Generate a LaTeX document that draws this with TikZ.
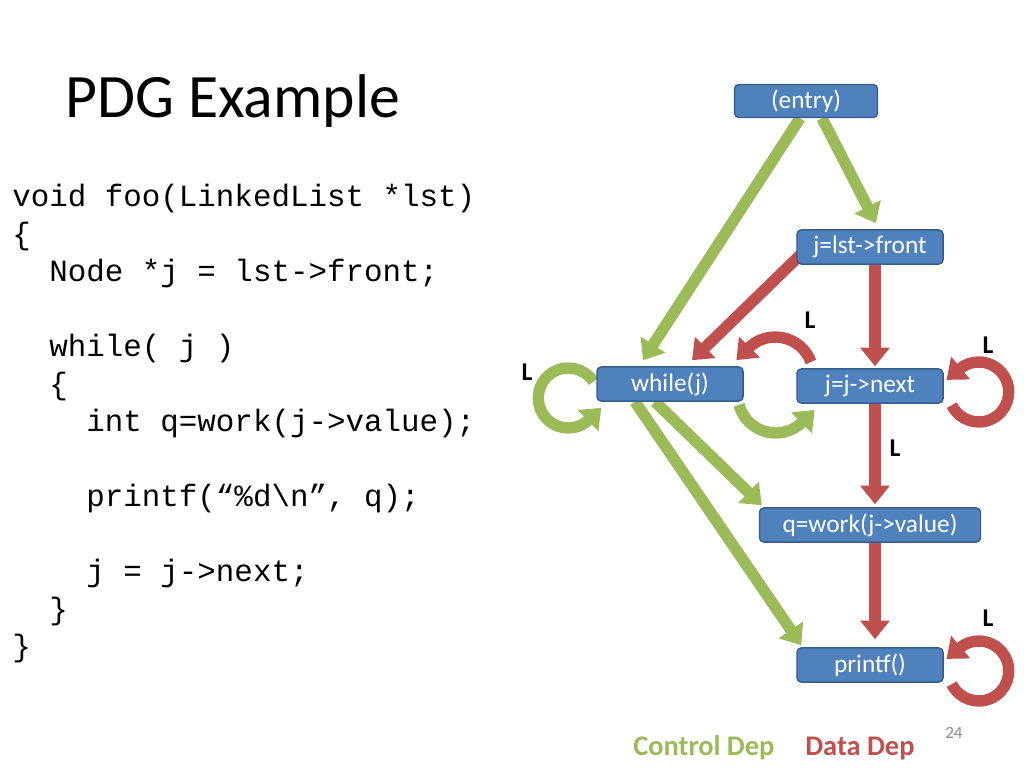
\documentclass[tikz,border=0pt]{standalone}
\usepackage{fontspec}
\setmainfont{Carlito}
\setmonofont{Liberation Mono}
\usetikzlibrary{positioning}
\usetikzlibrary{calc}
\usetikzlibrary{arrows.meta}
\usetikzlibrary{backgrounds}
\definecolor{ctrlgreen}{HTML}{9BBB59}
\definecolor{datared}{HTML}{C0504D}
\definecolor{boxblue}{HTML}{4F81BD}
\definecolor{boxline}{HTML}{385D8A}
\definecolor{pagegray}{HTML}{8C8C8C}

\begin{document}
\begin{tikzpicture}[x=0.703125pt,y=-0.703125pt,
        stmt/.style={draw=boxline,fill=boxblue,line width=1pt,rounded corners=3pt,
          text=white,font=\fontsize{17.8}{20}\selectfont,inner sep=0pt,
          minimum width=102.7pt,minimum height=24pt},
        ctrl/.style={draw=ctrlgreen,line width=8pt,-{Triangle[width=20pt,length=13pt]}},
        data/.style={draw=datared,line width=8pt,-{Triangle[width=20pt,length=13pt]}},
        looplabel/.style={inner sep=0pt,font=\fontsize{18}{20}\bfseries\selectfont}]
        \useasboundingbox (0,0) rectangle (1024,768);

        \node[anchor=base west,inner sep=0pt,font=\fontsize{43.4}{52}\selectfont] (T) at (65,118) {PDG Example};
        \node[anchor=north west,inner sep=0pt,align=left,font=\fontsize{21.7}{26.37}\ttfamily\selectfont] (C) at (12,184) {%
          void foo(LinkedList *lst)\\
          \{\\
          \hspace*{1.2em}Node *j = lst->front;\\
          \mbox{}\\
          \hspace*{1.2em}while( j )\\
          \hspace*{1.2em}\{\\
          \hspace*{2.4em}int q=work(j->value);\\
          \mbox{}\\
          \hspace*{2.4em}printf(“\%d\textbackslash n”, q);\\
          \mbox{}\\
          \hspace*{2.4em}j = j->next;\\
          \hspace*{1.2em}\}\\
          \}};

        \node[stmt,minimum width=100.5pt,minimum height=23.2pt] (E) at (806,101) {(entry)};
        \node[stmt] (F) at (870,247) {j=lst->front};
        \node[stmt] (W) at (670,384) {while(j)};
        \node[stmt] (N) at (870,386) {j=j->next};
        \node[stmt,minimum width=155.4pt] (Q) at (870,525) {q=work(j->value)};
        \node[stmt] (P) at (870,665) {printf()};

        \begin{scope}[on background layer]
        \draw[ctrl] ($(E.south)+(16,0)$) -- ($(F.north)+(6,-6)$);
        \draw[ctrl] ($(E.south)+(-6,0)$) -- ($(W.north)+(-27,-6)$);
        \draw[ctrl] ($(W.south)+(-15,0)$) -- ($(Q.north west)+(3,-2)$);
        \draw[ctrl] ($(W.south)+(-35,0)$) -- ($(P.north west)+(5,-2)$);
        \draw[ctrl] ($(W.west)+(-28,14)+(-33:30)$) arc[start angle=-33,end angle=-314,radius=30] -- ++(12.2,-11.8);
        \draw[ctrl] ($(W.east)+(32,11)+(165:38)$) arc[start angle=165,end angle=45,radius=38] -- ++(12,-12);

        \draw[data] ($(F.west)+(4,8)$) -- ($(W.north)+(22,-6)$);
        \draw[data] ($(F.south)+(5,0)$) -- ($(N.north)+(5,-2)$);
        \draw[data] ($(N.south)+(5,0)$) -- ($(Q.north)+(5,-3)$);
        \draw[data] ($(Q.south)+(5,0)$) -- ($(P.north)+(5,-8)$);
        \draw[data] ($(N.west)+(-21,-11)+(-20:38)$) arc[start angle=-20,end angle=-135,radius=38] -- ++(-12,12);
        \draw[data] ($(N.east)+(35,6)+(154:30)$) arc[start angle=154,end angle=-130,radius=30] -- ++(-13,10.9);
        \draw[data] ($(P.east)+(35,6)+(154:30)$) arc[start angle=154,end angle=-130,radius=30] -- ++(-13,10.9);
        \end{scope}

        \node[looplabel] (L1) at (527,372) {L};
        \node[looplabel] (L2) at (810,320) {L};
        \node[looplabel] (L3) at (988,345) {L};
        \node[looplabel] (L4) at (895,448) {L};
        \node[looplabel] (L5) at (988,618) {L};

        \node[anchor=base west,inner sep=0pt,font=\fontsize{20}{24}\bfseries\selectfont,text=ctrlgreen] (CD) at (633,755) {Control Dep};
        \node[anchor=base west,inner sep=0pt,font=\fontsize{20}{24}\bfseries\selectfont,text=datared] (DD) at (805,755) {Data Dep};
        \node[anchor=base west,inner sep=0pt,font=\fontsize{12}{14}\selectfont,text=pagegray] (PG) at (945,738) {24};
      \end{tikzpicture}
\end{document}
